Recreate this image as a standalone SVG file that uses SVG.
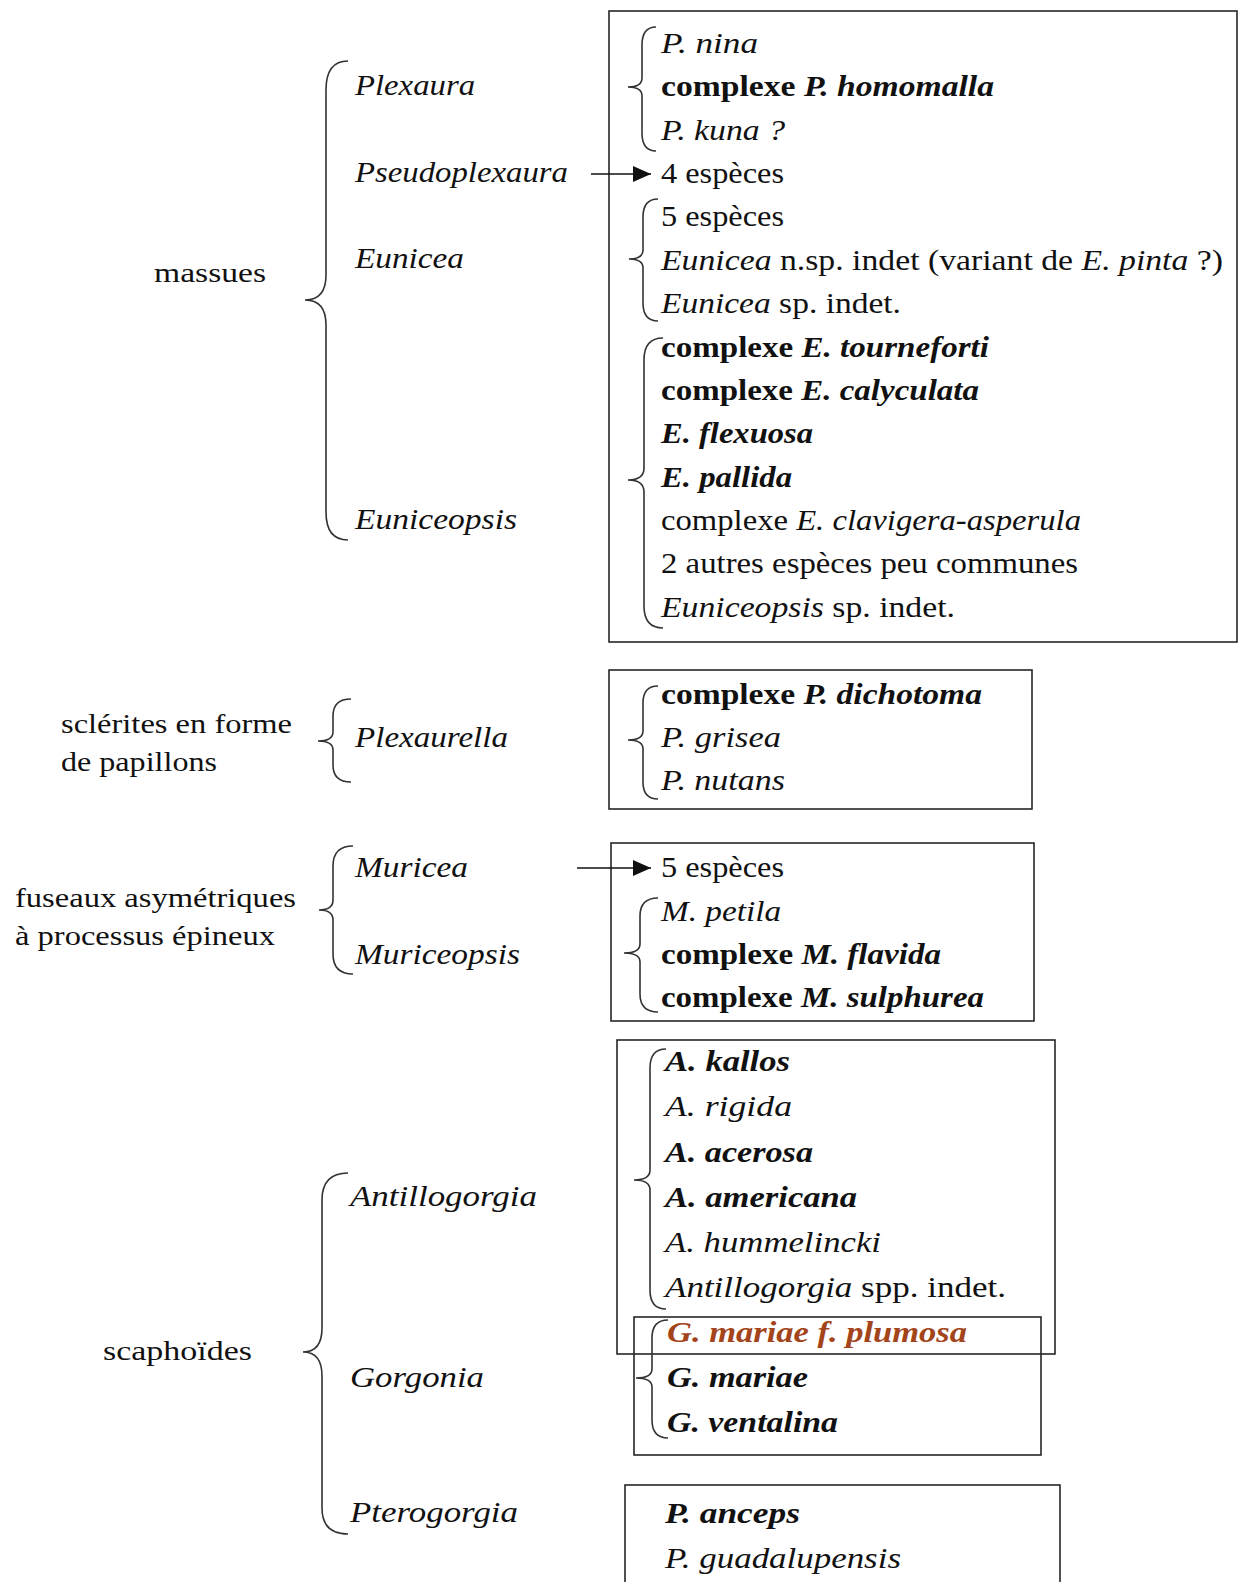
<svg xmlns="http://www.w3.org/2000/svg" width="1238" height="1582" viewBox="0 0 1238 1582">
<style>
text{font-family:"Liberation Serif","Times New Roman",serif;font-size:30px;fill:#111;}
.lab{font-size:28px;}
.i{font-style:italic;}
.b{font-weight:bold;}
.bi{font-weight:bold;font-style:italic;}
.red{fill:#a3441b;}
.box{fill:none;stroke:#262626;stroke-width:1.6;}
.br{fill:none;stroke:#333;stroke-width:1.6;}
.arr{stroke:#111;stroke-width:1.6;fill:none;}
</style>
<defs>
<marker id="ah" markerUnits="userSpaceOnUse" markerWidth="20" markerHeight="16" refX="18" refY="8" orient="auto">
<path d="M0,0 L18,8 L0,16 Z" fill="#111"/>
</marker>
</defs>
<rect width="1238" height="1582" fill="#fff"/>

<g id="massues">
<text class="lab" x="154" y="282" textLength="112" lengthAdjust="spacingAndGlyphs">massues</text>
<path class="br" d="M348,61 Q326,61 326,90 L326,275 Q326,300 305,300 Q326,300 326,325 L326,512 Q326,540 348,540"/>
<text class="i" x="355" y="95" textLength="120" lengthAdjust="spacingAndGlyphs">Plexaura</text>
<text class="i" x="355" y="182" textLength="213" lengthAdjust="spacingAndGlyphs">Pseudoplexaura</text>
<text class="i" x="355" y="268" textLength="109" lengthAdjust="spacingAndGlyphs">Eunicea</text>
<text class="i" x="355" y="529" textLength="162" lengthAdjust="spacingAndGlyphs">Euniceopsis</text>
</g>

<g id="box-massues">
<rect class="box" x="609" y="11" width="628" height="631"/>
<path class="br" d="M656,27 Q642,27 642,45 L642,78 Q642,87 628,87 Q642,87 642,96 L642,133 Q642,151 656,151"/>
<path class="br" d="M658,199 Q643,199 643,217 L643,250 Q643,259 629,259 Q643,259 643,268 L643,303 Q643,321 658,321"/>
<path class="br" d="M663,338 Q644,338 644,360 L644,468 Q644,480 628,480 Q644,480 644,492 L644,606 Q644,628 663,628"/>
<text x="661" y="53" class="i" textLength="97" lengthAdjust="spacingAndGlyphs">P. nina</text>
<text x="661" y="96" textLength="333" lengthAdjust="spacingAndGlyphs"><tspan class="b">complexe </tspan><tspan class="bi">P. homomalla</tspan></text>
<text x="661" y="140" class="i" textLength="124" lengthAdjust="spacingAndGlyphs">P. kuna ?</text>
<text x="661" y="183" textLength="123" lengthAdjust="spacingAndGlyphs">4 espèces</text>
<text x="661" y="226" textLength="123" lengthAdjust="spacingAndGlyphs">5 espèces</text>
<text x="661" y="270" textLength="562" lengthAdjust="spacingAndGlyphs"><tspan class="i">Eunicea</tspan>  n.sp. indet (variant de <tspan class="i">E. pinta</tspan>  ?)</text>
<text x="661" y="313" textLength="240" lengthAdjust="spacingAndGlyphs"><tspan class="i">Eunicea</tspan>  sp. indet.</text>
<text x="661" y="357" textLength="328" lengthAdjust="spacingAndGlyphs"><tspan class="b">complexe </tspan><tspan class="bi">E. tourneforti</tspan></text>
<text x="661" y="400" textLength="318" lengthAdjust="spacingAndGlyphs"><tspan class="b">complexe </tspan><tspan class="bi">E. calyculata</tspan></text>
<text x="661" y="443" class="bi" textLength="152" lengthAdjust="spacingAndGlyphs">E. flexuosa</text>
<text x="661" y="487" class="bi" textLength="131" lengthAdjust="spacingAndGlyphs">E. pallida</text>
<text x="661" y="530" textLength="420" lengthAdjust="spacingAndGlyphs">complexe <tspan class="i">E. clavigera-asperula</tspan></text>
<text x="661" y="573" textLength="417" lengthAdjust="spacingAndGlyphs">2 autres espèces peu communes</text>
<text x="661" y="617" textLength="294" lengthAdjust="spacingAndGlyphs"><tspan class="i">Euniceopsis</tspan>  sp. indet.</text>
</g>

<g id="papillons">
<text class="lab" x="61" y="733" textLength="231" lengthAdjust="spacingAndGlyphs">sclérites en forme</text>
<text class="lab" x="61" y="771" textLength="156" lengthAdjust="spacingAndGlyphs">de papillons</text>
<path class="br" d="M351,699 Q333,699 333,716 L333,732 Q333,741 318,741 Q333,741 333,750 L333,765 Q333,782 351,782"/>
<text class="i" x="355" y="747" textLength="153" lengthAdjust="spacingAndGlyphs">Plexaurella</text>
</g>

<g id="box-plexaurella">
<rect class="box" x="609" y="670" width="423" height="139"/>
<path class="br" d="M658,686 Q643,686 643,703 L643,731 Q643,740 628,740 Q643,740 643,749 L643,782 Q643,799 658,799"/>
<text x="661" y="704" textLength="321" lengthAdjust="spacingAndGlyphs"><tspan class="b">complexe </tspan><tspan class="bi">P. dichotoma</tspan></text>
<text x="661" y="747" class="i" textLength="120" lengthAdjust="spacingAndGlyphs">P. grisea</text>
<text x="661" y="790" class="i" textLength="124" lengthAdjust="spacingAndGlyphs">P. nutans</text>
</g>

<g id="fuseaux">
<text class="lab" x="15" y="907" textLength="281" lengthAdjust="spacingAndGlyphs">fuseaux asymétriques</text>
<text class="lab" x="15" y="945" textLength="260" lengthAdjust="spacingAndGlyphs">à processus épineux</text>
<path class="br" d="M353,846 Q333,846 333,866 L333,900 Q333,910 319,910 Q333,910 333,920 L333,954 Q333,974 353,974"/>
<text class="i" x="355" y="877" textLength="113" lengthAdjust="spacingAndGlyphs">Muricea</text>
<text class="i" x="355" y="964" textLength="165" lengthAdjust="spacingAndGlyphs">Muriceopsis</text>
</g>

<g id="box-muricea">
<rect class="box" x="611" y="843" width="423" height="178"/>
<path class="br" d="M658,898 Q640,898 640,916 L640,944 Q640,953 624,953 Q640,953 640,962 L640,994 Q640,1012 658,1012"/>
<text x="661" y="877" textLength="123" lengthAdjust="spacingAndGlyphs">5 espèces</text>
<text x="661" y="921" class="i" textLength="120" lengthAdjust="spacingAndGlyphs">M. petila</text>
<text x="661" y="964" textLength="280" lengthAdjust="spacingAndGlyphs"><tspan class="b">complexe </tspan><tspan class="bi">M. flavida</tspan></text>
<text x="661" y="1007" textLength="323" lengthAdjust="spacingAndGlyphs"><tspan class="b">complexe </tspan><tspan class="bi">M. sulphurea</tspan></text>
</g>

<g id="scaphoides">
<text class="lab" x="103" y="1360" textLength="149" lengthAdjust="spacingAndGlyphs">scaphoïdes</text>
<path class="br" d="M348,1173 Q322,1173 322,1200 L322,1328 Q322,1352 303,1352 Q322,1352 322,1376 L322,1508 Q322,1534 348,1534"/>
<text class="i" x="350" y="1206" textLength="187" lengthAdjust="spacingAndGlyphs">Antillogorgia</text>
<text class="i" x="350" y="1387" textLength="134" lengthAdjust="spacingAndGlyphs">Gorgonia</text>
<text class="i" x="350" y="1522" textLength="168" lengthAdjust="spacingAndGlyphs">Pterogorgia</text>
</g>

<g id="box-antillogorgia">
<rect class="box" x="617" y="1040" width="438" height="314"/>
<path class="br" d="M666,1049 Q650,1049 650,1068 L650,1170 Q650,1180 634,1180 Q650,1180 650,1190 L650,1290 Q650,1309 666,1309"/>
<text x="665" y="1071" class="bi" textLength="125" lengthAdjust="spacingAndGlyphs">A. kallos</text>
<text x="665" y="1116" class="i" textLength="127" lengthAdjust="spacingAndGlyphs">A. rigida</text>
<text x="665" y="1162" class="bi" textLength="148" lengthAdjust="spacingAndGlyphs">A. acerosa</text>
<text x="665" y="1207" class="bi" textLength="192" lengthAdjust="spacingAndGlyphs">A. americana</text>
<text x="665" y="1252" class="i" textLength="216" lengthAdjust="spacingAndGlyphs">A. hummelincki</text>
<text x="665" y="1297" textLength="341" lengthAdjust="spacingAndGlyphs"><tspan class="i">Antillogorgia</tspan>  spp. indet.</text>
</g>

<g id="box-gorgonia">
<rect class="box" x="634" y="1317" width="407" height="138"/>
<path class="br" d="M668,1320 Q652,1320 652,1338 L652,1369 Q652,1378 636,1378 Q652,1378 652,1387 L652,1420 Q652,1438 668,1438"/>
<text x="667" y="1342" class="bi red" textLength="300" lengthAdjust="spacingAndGlyphs">G. mariae f. plumosa</text>
<text x="667" y="1387" class="bi" textLength="141" lengthAdjust="spacingAndGlyphs">G. mariae</text>
<text x="667" y="1432" class="bi" textLength="171" lengthAdjust="spacingAndGlyphs">G. ventalina</text>
</g>

<g id="box-pterogorgia">
<rect class="box" x="625" y="1485" width="435" height="110"/>
<text x="665" y="1523" class="bi" textLength="135" lengthAdjust="spacingAndGlyphs">P. anceps</text>
<text x="665" y="1568" class="i" textLength="236" lengthAdjust="spacingAndGlyphs">P. guadalupensis</text>
</g>

<g id="connectors">
<line class="arr" x1="591" y1="174" x2="651" y2="174" marker-end="url(#ah)"/>
<line class="arr" x1="577" y1="868" x2="651" y2="868" marker-end="url(#ah)"/>
</g>
</svg>
